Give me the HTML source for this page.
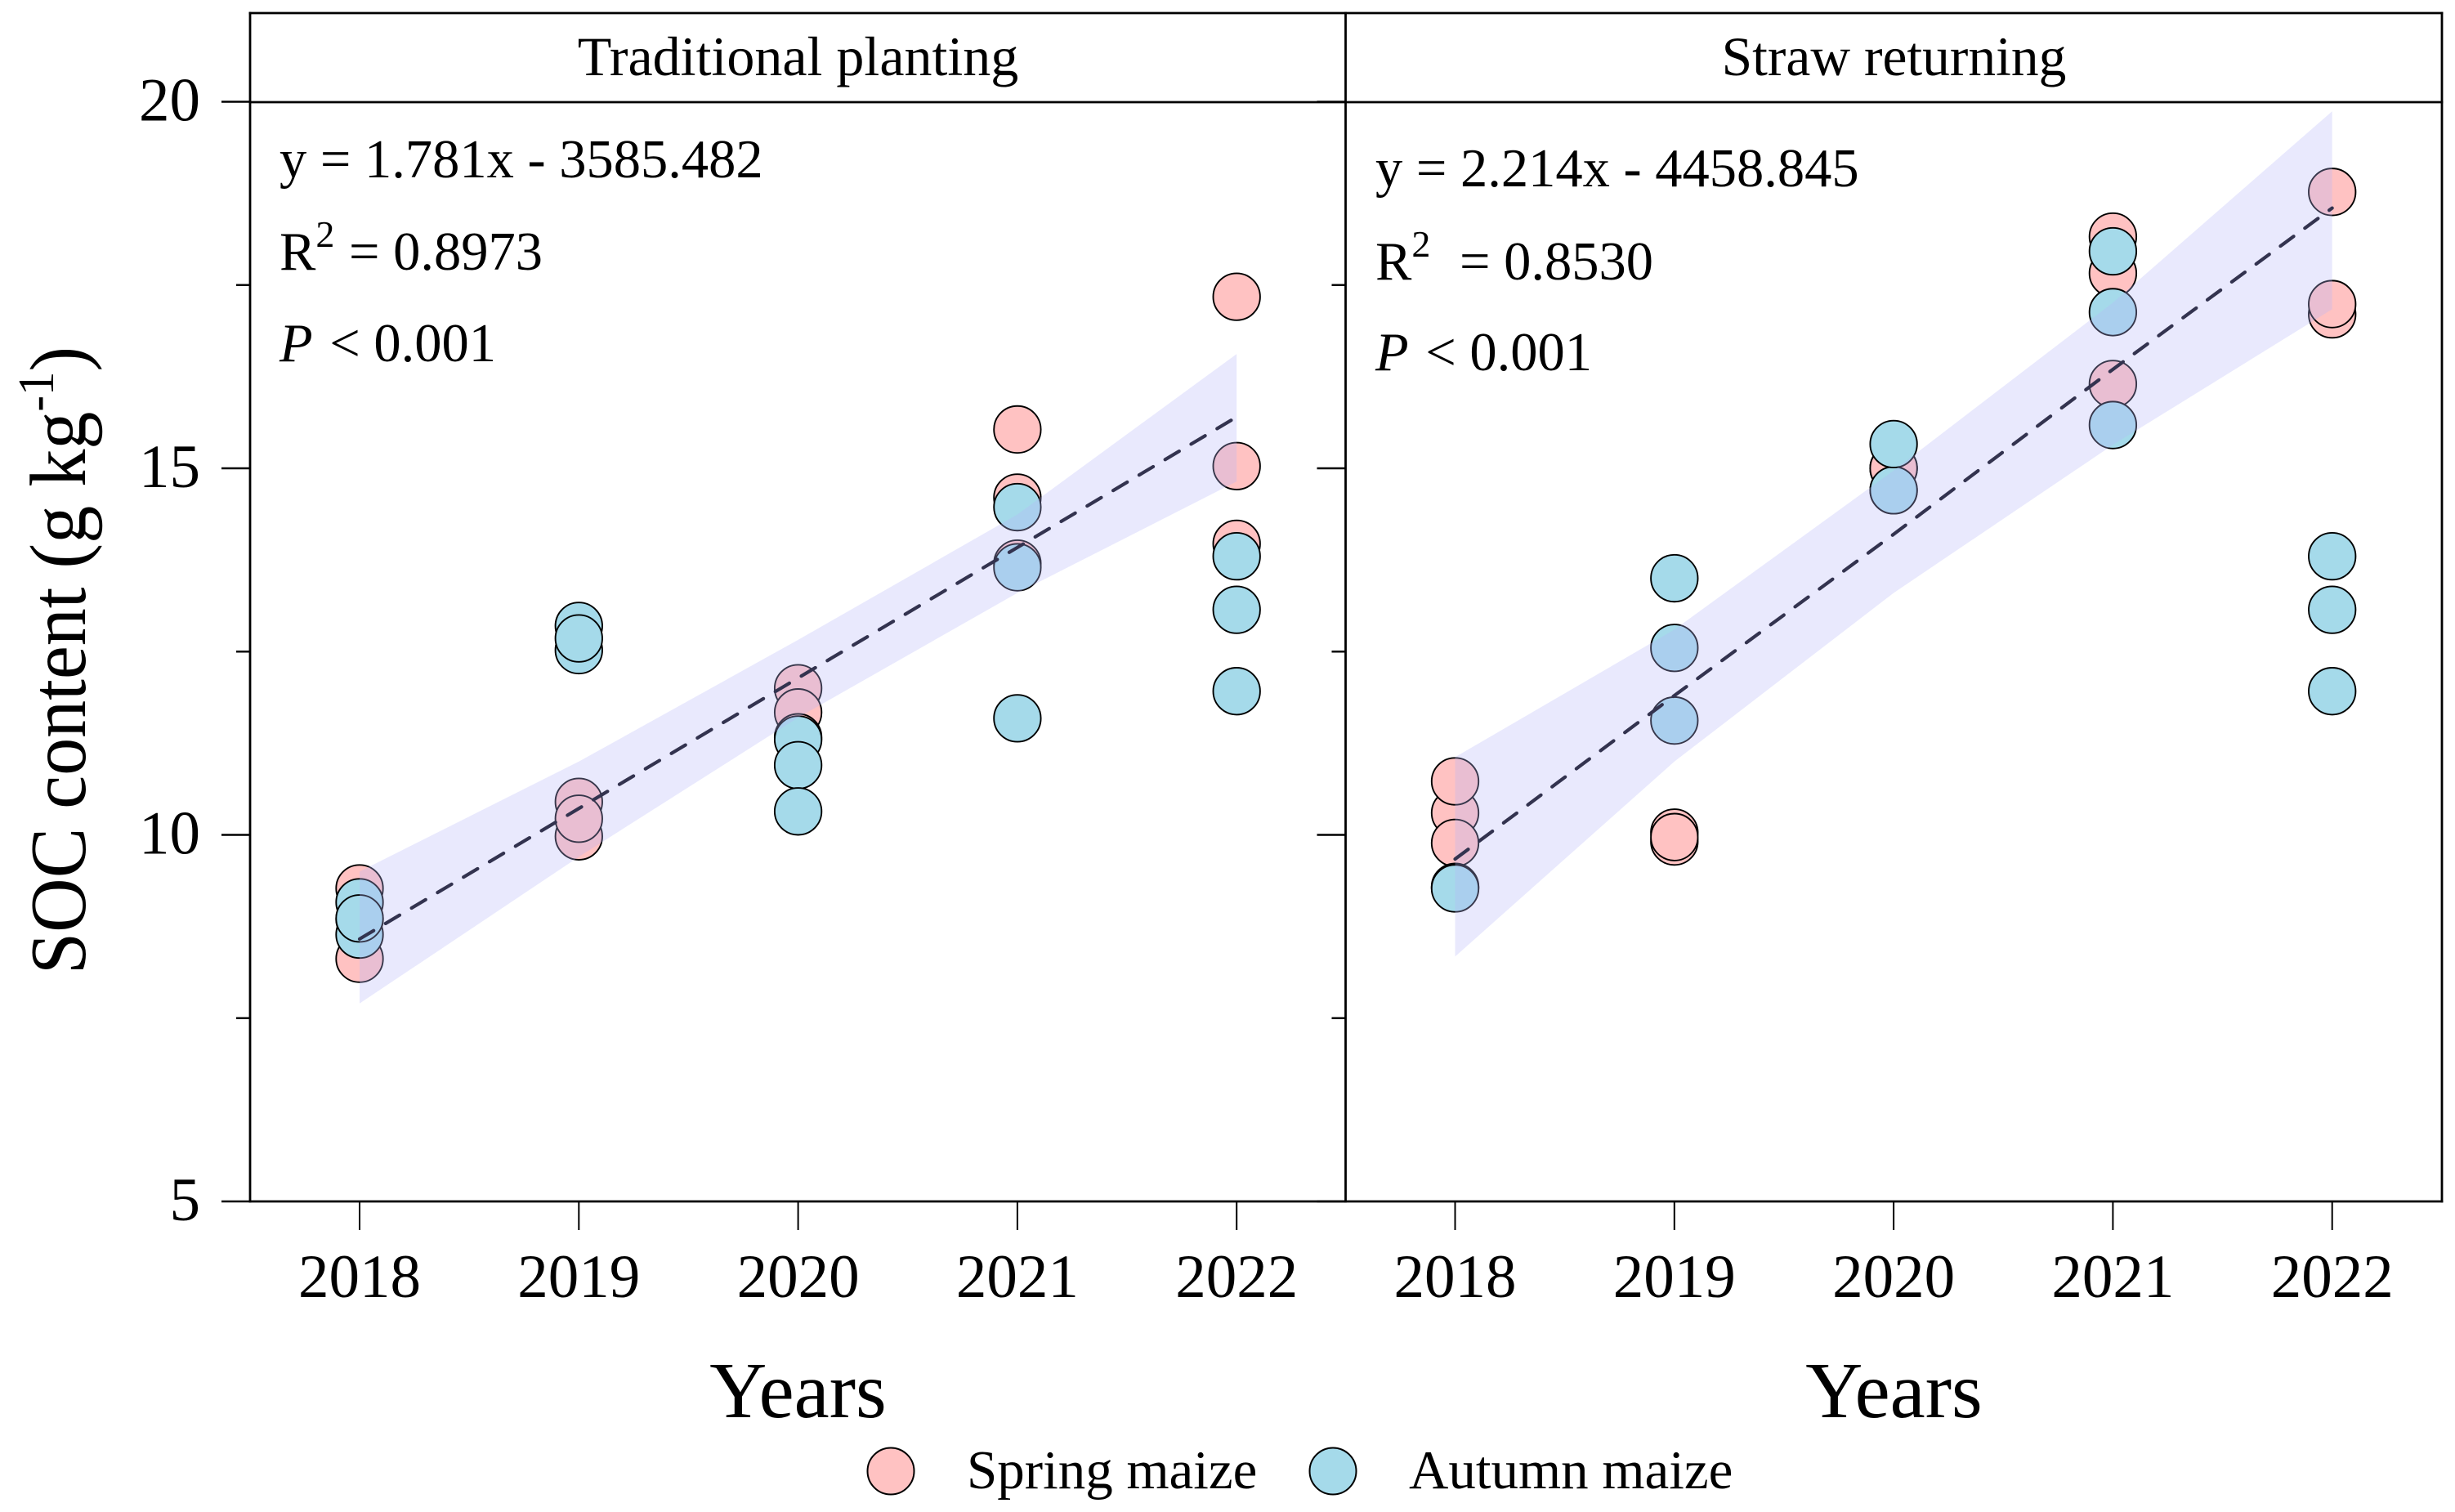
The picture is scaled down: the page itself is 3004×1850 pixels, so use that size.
<!DOCTYPE html>
<html lang="en">
<head>
<meta charset="utf-8">
<title>SOC content by year: traditional planting and straw returning</title>
<style>
html,body{margin:0;padding:0;background:#fff;}
svg{display:block;}
text{font-family:"Liberation Serif",serif;fill:#000;}
</style>
</head>
<body>
<svg id="chart" xmlns="http://www.w3.org/2000/svg" width="3004" height="1850" viewBox="0 0 3004 1850"></svg>
<script>
const years = [2018, 2019, 2020, 2021, 2022];
const yMajorTicks = [5, 10, 15, 20];
const yMinorTicks = [7.5, 12.5, 17.5];

const tradSpring = [[9.27, 8.85, 8.31], [10.45, 9.98, 10.22], [12.0, 11.67, 11.33], [15.53, 14.6, 13.7], [17.34, 15.03, 13.97]];
const tradAutumn = [[8.64, 9.08, 8.86], [12.85, 12.52, 12.68], [11.3, 10.95, 10.32], [14.47, 13.65, 11.59], [13.8, 13.07, 11.96]];
const tradFit = [8.58, 10.36, 12.14, 13.92, 15.7];
const tradUpper = [9.5, 11.0, 12.66, 14.37, 16.56];
const tradLower = [7.7, 9.7, 11.6, 13.3, 14.82];

const strawSpring = [[10.3, 10.73, 9.89], [10.03, 9.91, 9.97], [15.0, 15.0, 15.0], [18.16, 17.66, 16.15], [18.77, 17.1, 17.24]];
const strawAutumn = [[9.29, 9.28, 9.27], [13.5, 12.55, 11.56], [14.7, 14.7, 15.33], [17.96, 17.13, 15.59], [13.8, 13.07, 11.96]];
const strawFit = [9.67, 11.9, 14.1, 16.35, 18.55];
const strawUpper = [11.06, 12.8, 14.97, 17.26, 19.87];
const strawLower = [8.34, 11.0, 13.3, 15.32, 17.17];

const NS = 'http://www.w3.org/2000/svg';
const svg = document.getElementById('chart');

function make(tag, attrs, parent) {
  const el = document.createElementNS(NS, tag);
  for (const k in attrs) el.setAttribute(k, attrs[k]);
  (parent || svg).appendChild(el);
  return el;
}

const yScale = v => 1470 - (v - 5) * 89.7;
const xScale = (panelLeft, year) => panelLeft + 134 + (year - 2018) * 268.3;

const BLACK = '#000';
const left1 = 306, left2 = 1646.5, right2 = 2988, topY = 16, stripY = 125, botY = 1470;

function drawPanelMarks(prefix, left, spring, autumn, upper, lower, fit) {
  years.forEach((yr, i) => {
    spring[i].forEach(v => {
      const c = make('circle', {cx: xScale(left, yr), cy: yScale(v), r: 28.7, fill: '#FFC2C2', stroke: BLACK, 'stroke-width': 1.9});
      
      
    });
  });
  years.forEach((yr, i) => {
    autumn[i].forEach(v => {
      const c = make('circle', {cx: xScale(left, yr), cy: yScale(v), r: 28.7, fill: '#A5DAEA', stroke: BLACK, 'stroke-width': 1.9});
      
      
    });
  });
  const top = years.map((yr, i) => xScale(left, yr) + ',' + yScale(upper[i]));
  const bot = years.map((yr, i) => xScale(left, yr) + ',' + yScale(lower[i])).reverse();
  const band = make('polygon', {points: top.concat(bot).join(' '), fill: 'rgb(182,182,250)', 'fill-opacity': 0.3});
  
  
  const linePts = years.map((yr, i) => xScale(left, yr) + ',' + yScale(fit[i])).join(' ');
  const line = make('polyline', {points: linePts, fill: 'none', stroke: '#33334f', 'stroke-width': 4.2, 'stroke-dasharray': '20 17', 'stroke-linecap': 'round'});
  
  
}

drawPanelMarks('traditional', left1, tradSpring, tradAutumn, tradUpper, tradLower, tradFit);
drawPanelMarks('straw', left2, strawSpring, strawAutumn, strawUpper, strawLower, strawFit);

/* frame */
const frameSegs = [
  ['strip-top-border', left1, topY, right2, topY],
  ['strip-bottom-border', left1, stripY, right2, stripY],
  ['x-axis-line', left1, botY, right2, botY],
  ['left-axis-line', left1, topY, left1, botY],
  ['panel-divider', left2, topY, left2, botY],
  ['right-border', right2, topY, right2, botY]
];
frameSegs.forEach(s => {
  const l = make('line', {x1: s[1], y1: s[2], x2: s[3], y2: s[4], stroke: BLACK, 'stroke-width': 2.8, 'stroke-linecap': 'square'});
  
  
});

/* y ticks on both panels */
[left1, left2].forEach(px => {
  yMajorTicks.forEach(v => {
    const t = make('line', {x1: px - 35, y1: yScale(v), x2: px, y2: yScale(v), stroke: BLACK, 'stroke-width': 2.4});
    
    
  });
  yMinorTicks.forEach(v => {
    const t = make('line', {x1: px - 17, y1: yScale(v), x2: px, y2: yScale(v), stroke: BLACK, 'stroke-width': 2.4});
    
    
  });
});

yMajorTicks.forEach(v => {
  const t = make('text', {x: 245, y: yScale(v) + 23, 'font-size': 75, 'text-anchor': 'end'});
  t.textContent = String(v);
  
  
});

/* x ticks */
[left1, left2].forEach(px => {
  years.forEach(yr => {
    const x = xScale(px, yr);
    const t = make('line', {x1: x, y1: botY, x2: x, y2: botY + 35, stroke: BLACK, 'stroke-width': 2});
    
    
    const lab = make('text', {x: x, y: 1587, 'font-size': 75, 'text-anchor': 'middle'});
    lab.textContent = String(yr);
    
    
  });
  const xt = make('text', {x: (px === left1 ? 976.5 : 2317.5), y: 1734, 'font-size': 97, 'text-anchor': 'middle'});
  xt.textContent = 'Years';
  
  
});

/* strip titles */
const title1 = make('text', {x: 976.5, y: 92, 'font-size': 68, 'text-anchor': 'middle'});
title1.textContent = 'Traditional planting';


const title2 = make('text', {x: 2317.5, y: 92, 'font-size': 67.5, 'text-anchor': 'middle'});
title2.textContent = 'Straw returning';



/* annotations */
function annotate(prefix, x, eq, rVal, rGap, base) {
  const e = make('text', {x: x, y: base[0], 'font-size': 66.5});
  e.textContent = eq;
  
  
  const r = make('text', {x: x, y: base[1], 'font-size': 66.5});
  const rt = make('tspan', {}, r);
  rt.textContent = 'R';
  const sup = make('tspan', {dy: -28, 'font-size': 46}, r);
  sup.textContent = '2';
  const rest = make('tspan', {dy: 28, dx: rGap}, r);
  rest.textContent = ' = ' + rVal;
  
  
  const p = make('text', {x: x, y: base[2], 'font-size': 66.5});
  const pi = make('tspan', {'font-style': 'italic'}, p);
  pi.textContent = 'P';
  const pr = make('tspan', {dx: 4}, p);
  pr.textContent = ' < 0.001';
  
  
}
annotate('traditional', 342, 'y = 1.781x - 3585.482', '0.8973', 1, [217, 330, 442]);
annotate('straw', 1683, 'y = 2.214x - 4458.845', '0.8530', 19, [228, 342, 453]);

/* y-axis title */
const yt = make('text', {transform: 'translate(104,808) rotate(-90) scale(0.95,1)', 'font-size': 97, 'text-anchor': 'middle'});
const y1 = make('tspan', {}, yt);
y1.textContent = 'SOC content (g kg';
const y2 = make('tspan', {dy: -39, 'font-size': 62}, yt);
y2.textContent = '-1';
const y3 = make('tspan', {dy: 39}, yt);
y3.textContent = ')';



/* legend */
const sw1 = make('circle', {cx: 1090, cy: 1800, r: 28.5, fill: '#FFC2C2', stroke: BLACK, 'stroke-width': 2});


const lt1 = make('text', {x: 1183, y: 1821, 'font-size': 67});
lt1.textContent = 'Spring maize';


const sw2 = make('circle', {cx: 1631, cy: 1800, r: 28.5, fill: '#A5DAEA', stroke: BLACK, 'stroke-width': 2});


const lt2 = make('text', {x: 1724, y: 1821, 'font-size': 67});
lt2.textContent = 'Autumn maize';


</script>
</body>
</html>
